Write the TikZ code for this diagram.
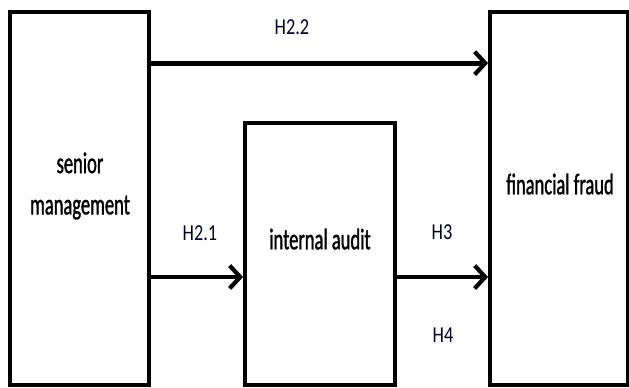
\documentclass[tikz,border=0pt]{standalone}
\usepackage{fontspec}
\setmainfont{Carlito}[FakeStretch=0.8]
\newfontfamily\boxfont{Carlito}[FakeStretch=0.62,FakeBold=1.2]
\usepackage{tikz}
\usetikzlibrary{arrows.meta,positioning}

\begin{document}
\begin{tikzpicture}[x=0.02cm,y=-0.02cm,
        box/.style={rectangle,draw=black,line width=2.2pt,fill=white,
                    minimum width=2.78cm,minimum height=7.46cm,inner sep=0pt},
        txt/.style={font=\boxfont\fontsize{17}{23.5}\selectfont,align=center,text=black},
        hyp/.style={font=\fontsize{13}{15}\selectfont,text=black!85!blue},
        arr/.style={-{Straight Barb[length=6pt,width=13pt,line width=2.4pt]},black,line width=2.8pt}]
        \useasboundingbox (0,0) rectangle (629,387);
        % boxes
        \node[box] (mgmt) at (79.5,198.5) {};
        \node[box,minimum width=3cm,minimum height=5.24cm] (audit) at (320,254) {};
        \node[box,minimum width=2.76cm] (fraud) at (559,198.5) {};
        \node[txt] (mgmttxt) at (80,186) {senior\\management};
        \node[txt] (audittxt) at (320,239) {internal audit};
        \node[txt] (fraudtxt) at (560,184) {financial fraud};
        % hypotheses
        \coordinate (top) at ([yshift=-1.06cm]mgmt.north east);
        \draw[arr] (top) -- (top -| fraud.west);
        \draw[arr] (mgmt.east |- 0,277) -- (audit.west |- 0,277);
        \draw[arr] (audit.east |- 0,277) -- (fraud.west |- 0,277);
        \node[hyp] (h22) at (292,27) {H2.2};
        \node[hyp] (h21) at (200,233) {H2.1};
        \node[hyp] (h3) at (442,232) {H3};
        \node[hyp] (h4) at (443,335) {H4};
\end{tikzpicture}
\end{document}
